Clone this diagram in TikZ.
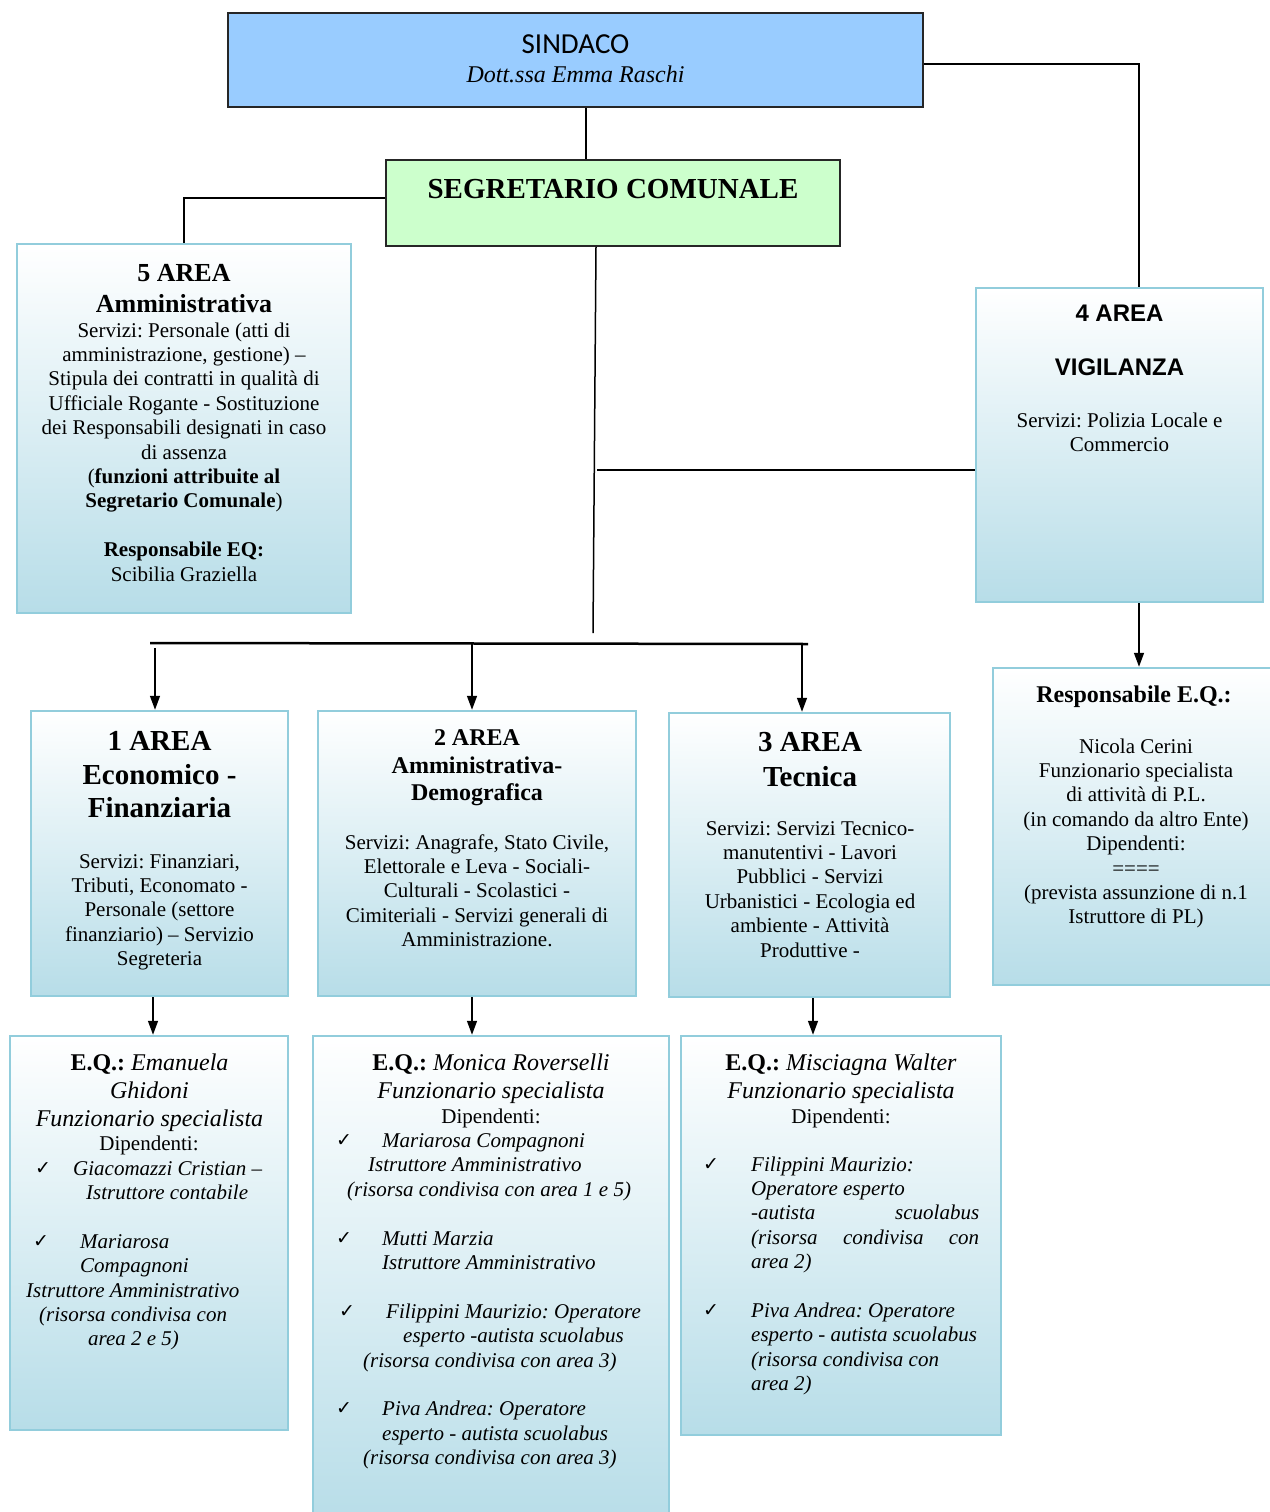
\documentclass[tikz,border=0pt]{standalone}
\usepackage{fontspec}
\setmainfont{Liberation Serif}
\newfontfamily\arialf{Liberation Sans}
\newfontfamily\calf{Carlito}
\newfontfamily\dvf{DejaVu Sans}
\usetikzlibrary{arrows.meta}
\definecolor{sindfill}{RGB}{153,204,255}
\definecolor{segfill}{RGB}{204,255,204}
\definecolor{boxedge}{RGB}{146,205,220}
\definecolor{boxblue}{RGB}{183,221,232}
\frenchspacing
\newcommand\fs[2]{\fontsize{#1}{#2}\selectfont}
\newcommand\chk{{\dvf\upshape\fontsize{19}{19}\selectfont ✓}}
\newcommand\ck[2]{\hspace*{#1pt}\rlap{\raisebox{1pt}{\chk}}\hspace*{#2pt}}
\newcommand\ind[1]{\hspace*{#1pt}}
\begin{document}
\begin{tikzpicture}[x=1pt,y=-1pt,
 abox/.style={draw=boxedge, line width=2.5pt, top color=white, bottom color=boxblue, inner sep=0pt},
 topbox/.style={draw=black!85, line width=1.5pt, inner sep=0pt},
 txt/.style={anchor=base, inner sep=0pt},
 wire/.style={line width=1.5pt},
 arr/.style={line width=1.5pt, -{Triangle[length=14pt,width=10pt]}}]
\useasboundingbox (0,0) rectangle (1269,1512);
\fill[white] (0,0) rectangle (1269,1512);

% top
\node[topbox, fill=sindfill, minimum width=695pt, minimum height=94pt] (sind) at (575.5,60) {};
\node[txt, font=\calf\fs{29}{34}] (sindT) at (575.5,54) {SINDACO};
\node[txt, font=\itshape\fs{24}{28}] (sindN) at (575.5,82) {Dott.ssa Emma Raschi};

\node[topbox, fill=segfill, minimum width=454pt, minimum height=86pt] (segr) at (613,203) {};
\node[txt, font=\bfseries\fs{29}{34}] (segrT) at (613,198) {SEGRETARIO COMUNALE};

% 5 area
\node[abox, minimum width=334pt, minimum height=369pt] (a5) at (184,428.5) {};
\node[txt] (a5T) at (184,281) {\parbox[t]{320pt}{\centering\bfseries\fs{26}{31}5 AREA\\Amministrativa}};
\node[txt] (a5B) at (184,337) {\parbox[t]{330pt}{\centering\fs{21}{24.4}Servizi: Personale (atti di\\amministrazione, gestione) –\\Stipula dei contratti in qualità di\\Ufficiale Rogante - Sostituzione\\dei Responsabili designati in caso\\di assenza\\(\textbf{funzioni attribuite al}\\\textbf{Segretario Comunale})\\[24.4pt]\textbf{Responsabile EQ:}\\Scibilia Graziella}};

% 4 area
\node[abox, minimum width=287pt, minimum height=314pt] (a4) at (1119.5,445) {};
\node[txt] (a4T) at (1119.5,321.5) {\parbox[t]{280pt}{\centering\arialf\bfseries\fs{24}{54}4 AREA\\VIGILANZA}};
\node[txt] (a4B) at (1119.5,427) {\parbox[t]{280pt}{\centering\fs{21}{24.4}Servizi: Polizia Locale e\\Commercio}};

% resp 4
\node[abox, minimum width=282pt, minimum height=317pt] (r4) at (1134,826.5) {};
\node[txt] (r4T) at (1134,702) {\bfseries\fs{24}{28}Responsabile E.Q.:};
\node[txt] (r4B) at (1136,753) {\parbox[t]{275pt}{\centering\fs{21}{24.4}Nicola Cerini\\Funzionario specialista\\di attività di P.L.\\(in comando da altro Ente)\\Dipendenti:\\====\\(prevista assunzione di n.1\\Istruttore di PL)}};

% 1 area
\node[abox, minimum width=257pt, minimum height=285pt] (a1) at (159.5,853.5) {};
\node[txt] (a1T) at (159.5,750.5) {\parbox[t]{250pt}{\centering\bfseries\fs{29}{33.5}1 AREA\\Economico -\\Finanziaria}};
\node[txt] (a1B) at (159.5,868) {\parbox[t]{250pt}{\centering\fs{21}{24.4}Servizi: Finanziari,\\Tributi, Economato -\\Personale (settore\\finanziario) – Servizio\\Segreteria}};

% 2 area
\node[abox, minimum width=318pt, minimum height=285pt] (a2) at (477,853.5) {};
\node[txt] (a2T) at (477,745.5) {\parbox[t]{310pt}{\centering\bfseries\fs{24}{27.5}2 AREA\\Amministrativa-\\Demografica}};
\node[txt] (a2B) at (477,849) {\parbox[t]{315pt}{\centering\fs{21}{24.4}Servizi: Anagrafe, Stato Civile,\\Elettorale e Leva - Sociali-\\Culturali - Scolastici -\\Cimiteriali - Servizi generali di\\Amministrazione.}};

% 3 area
\node[abox, minimum width=281pt, minimum height=284pt] (a3) at (809.5,855) {};
\node[txt] (a3T) at (810,751.5) {\parbox[t]{270pt}{\centering\bfseries\fs{29}{34.5}3 AREA\\Tecnica}};
\node[txt] (a3B) at (810,835) {\parbox[t]{275pt}{\centering\fs{21}{24.4}Servizi: Servizi Tecnico-\\manutentivi - Lavori\\Pubblici - Servizi\\Urbanistici - Ecologia ed\\ambiente - Attività\\Produttive -}};

% EQ 1
\node[abox, minimum width=278pt, minimum height=394pt] (e1) at (149,1233) {};
\node[txt] (e1T) at (149.5,1070) {\parbox[t]{270pt}{\centering\fs{24}{28}\textbf{E.Q.:} \textit{Emanuela}\\\textit{Ghidoni}\\\textit{Funzionario specialista}}};
\node[txt] (e1D) at (149,1150) {\fs{21}{24}Dipendenti:};
\node[txt, anchor=base west] (e1L) at (25,1175) {\parbox[t]{270pt}{\raggedright\itshape\fs{21}{24.4}\ck{10}{38}Giacomazzi Cristian –\\\ind{61}Istruttore contabile\\[24.4pt]\ck{8}{47}Mariarosa\\\ind{55}Compagnoni\\\ind{1}Istruttore Amministrativo\\\ind{14}(risorsa condivisa con\\\ind{63}area 2 e 5)}};

% EQ 2
\node[abox, minimum width=356pt, minimum height=490pt] (e2) at (491,1281) {};
\node[txt] (e2T) at (491,1070) {\parbox[t]{350pt}{\centering\fs{24}{28}\textbf{E.Q.:} \textit{Monica Roverselli}\\\textit{Funzionario specialista}}};
\node[txt] (e2D) at (491,1123) {\fs{21}{24}Dipendenti:};
\node[txt, anchor=base west] (e2L) at (335,1147.5) {\parbox[t]{340pt}{\raggedright\itshape\fs{21}{24.4}\ck{1}{46}Mariarosa Compagnoni\\\ind{33}Istruttore Amministrativo\\\ind{12}(risorsa condivisa con area 1 e 5)\\[24.4pt]\ck{1}{46}Mutti Marzia\\\ind{47}Istruttore Amministrativo\\[24.4pt]\ck{4}{47}Filippini Maurizio: Operatore\\\ind{68}esperto -autista scuolabus\\\ind{28}(risorsa condivisa con area 3)\\[24.4pt]\ck{1}{46}Piva Andrea: Operatore\\\ind{47}esperto - autista scuolabus\\\ind{28}(risorsa condivisa con area 3)}};

% EQ 3
\node[abox, minimum width=320pt, minimum height=399pt] (e3) at (841,1235.5) {};
\node[txt] (e3T) at (841,1070) {\parbox[t]{315pt}{\centering\fs{24}{28}\textbf{E.Q.:} \textit{Misciagna Walter}\\\textit{Funzionario specialista}}};
\node[txt] (e3D) at (841,1123) {\fs{21}{24}Dipendenti:};
\node[txt, anchor=base west] (e3L) at (703,1171) {\parbox[t]{300pt}{\raggedright\itshape\fs{21}{24.4}\ck{0}{48}Filippini Maurizio:\\\ind{48}Operatore esperto\\\ind{48}\hbox to 228pt{-autista\hfill scuolabus}\\\ind{48}\hbox to 228pt{(risorsa\hfill condivisa\hfill con}\\\ind{48}area 2)\\[24.4pt]\ck{0}{48}Piva Andrea: Operatore\\\ind{48}esperto - autista scuolabus\\\ind{48}(risorsa condivisa con\\\ind{48}area 2)}};

% connectors
\coordinate (k1) at (586,0);
\draw[wire] (sind.south -| k1) -- (segr.north -| k1);
\coordinate (k4) at (1139,64);
\draw[wire] (k4 -| sind.east) -| (a4.north -| k4);
\coordinate (k5) at (184,198);
\draw[wire] (k5 -| segr.west) -| (a5.north);
\coordinate (k6) at (596,0);
\coordinate (k6b) at (593,633);
\draw[wire] (segr.south -| k6) -- (k6b);
\coordinate (k7) at (597,470);
\draw[wire] (k7) -- (k7 -| a4.west);
\coordinate (bL) at (150,643);
\coordinate (bR) at (808,644);
\draw[line width=2.5pt] (bL) -- (bR);
\coordinate (d1) at (155,648);
\draw[arr] (d1) -- (a1.north -| d1);
\coordinate (d2) at (472,643);
\draw[arr] (d2) -- (a2.north -| d2);
\coordinate (d3) at (802,644);
\draw[arr] (d3) -- (a3.north -| d3);
\draw[arr] (a4.south -| k4) -- (r4.north -| k4);
\coordinate (f1) at (153,0);
\draw[arr] (a1.south -| f1) -- (e1.north -| f1);
\coordinate (f2) at (472,0);
\draw[arr] (a2.south -| f2) -- (e2.north -| f2);
\coordinate (f3) at (813,0);
\draw[arr] (a3.south -| f3) -- (e3.north -| f3);
\end{tikzpicture}
\end{document}
